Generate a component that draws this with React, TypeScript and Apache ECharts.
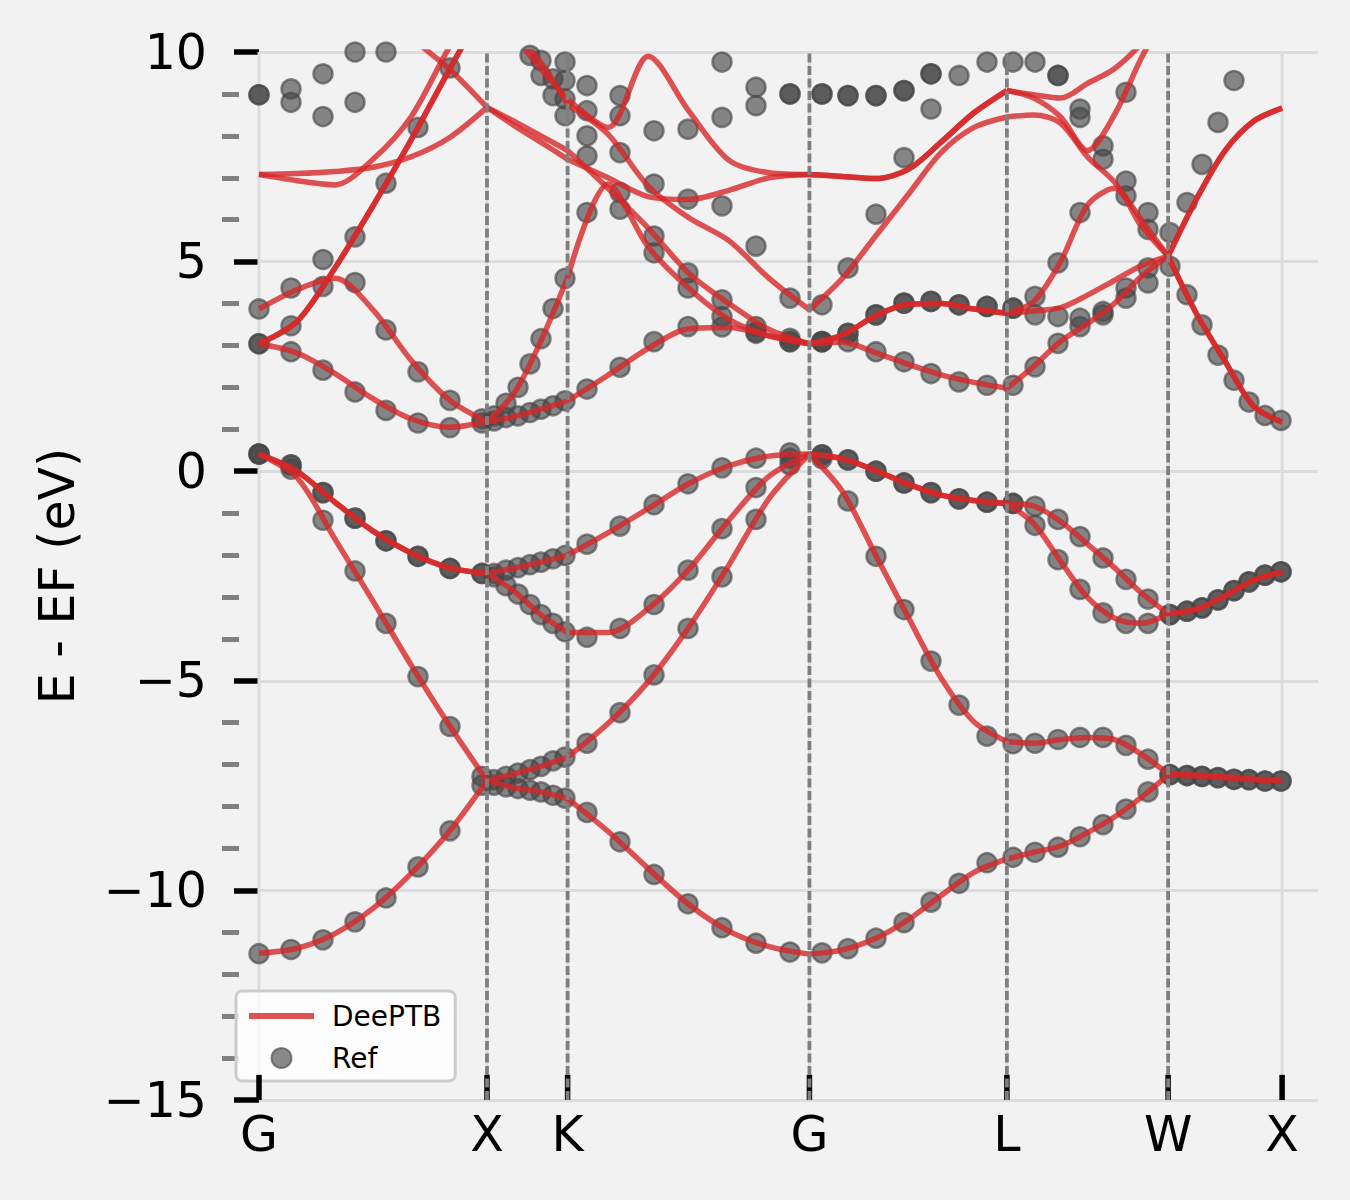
import React, { useEffect, useRef } from "react";
import * as echarts from "echarts";

const FONT = "DejaVu Sans";
const RED = "rgba(214,39,40,0.8)";
const GRAY_DOT = "rgba(70,70,70,0.8)";

// High-symmetry points (k in 2pi/a units along the path)
const hsLabels = ["G", "X", "K", "G", "L", "W", "X"];
const hsK = [0, 1, 1.3536, 2.4142, 3.2802, 3.9873, 4.4873];
const yMinorTicks = [-14, -13, -12, -11, -9, -8, -7, -6, -4, -3, -2, -1, 1, 2, 3, 4, 6, 7, 8, 9];
const Y_MIN = -15;
const Y_MAX = 10;
const X_TICK_TOP = -14.4; // inward x tick length (about 25 px)

// DeePTB k-grid and segment end indices
const gridK = [0, 0.1667, 0.3333, 0.5, 0.6667, 0.8333, 1.0, 1.1179, 1.2357, 1.3536, 1.5304, 1.7071, 1.8839, 2.0607, 2.2374, 2.4142, 2.5585, 2.7029, 2.8472, 2.9915, 3.1359, 3.2802, 3.3981, 3.5159, 3.6338, 3.7516, 3.8695, 3.9873, 4.1123, 4.2373, 4.3623, 4.4873];
const segmentEnds = [0, 6, 9, 15, 21, 27, 31];

// DeePTB bands (eV)
const deeptbV1 = [-11.5, -11.38, -11.03, -10.43, -9.6, -8.6, -7.38, -7.55, -7.65, -7.81, -8.59, -9.48, -10.33, -10.97, -11.34, -11.52, -11.42, -11.15, -10.7, -10.12, -9.57, -9.25, -9.09, -8.94, -8.62, -8.25, -7.78, -7.25, -7.27, -7.31, -7.36, -7.39];
const deeptbV2 = [0.41, -0.15, -1.62, -3.1, -4.62, -6.05, -7.38, -7.22, -7.04, -6.82, -6.02, -5.02, -3.73, -2.24, -0.65, 0.41, -0.48, -1.98, -3.48, -4.93, -5.98, -6.45, -6.49, -6.4, -6.35, -6.4, -6.75, -7.22, -7.25, -7.29, -7.34, -7.37];
const deeptbV3 = [0.41, 0.0, -0.74, -1.43, -1.95, -2.3, -2.44, -2.31, -2.17, -2.0, -1.47, -0.89, -0.3, 0.13, 0.36, 0.41, 0.3, 0.02, -0.31, -0.57, -0.7, -0.77, -0.83, -1.2, -1.74, -2.3, -2.9, -3.4, -3.29, -2.97, -2.6, -2.4];
const deeptbV4 = [0.41, 0.0, -0.74, -1.43, -1.95, -2.3, -2.44, -2.86, -3.42, -3.85, -3.85, -3.28, -2.35, -1.17, -0.12, 0.41, 0.3, 0.02, -0.31, -0.57, -0.7, -0.77, -1.25, -2.15, -3.01, -3.5, -3.63, -3.4, -3.29, -2.97, -2.6, -2.4];
const deeptbC1 = [3.04, 2.82, 2.33, 1.73, 1.25, 1.05, 1.18, 1.3, 1.48, 1.68, 2.29, 2.93, 3.4, 3.43, 3.23, 3.04, 3.08, 2.83, 2.55, 2.3, 2.12, 1.98, 2.5, 3.1, 3.52, 4.0, 4.65, 5.13, 3.75, 2.62, 1.55, 1.17];
const deeptbC2 = [3.87, 4.33, 4.6, 3.85, 2.65, 1.71, 1.18, 1.85, 3.1, 4.62, 6.85, 5.35, 4.37, 3.62, 3.23, 3.04, 3.25, 3.7, 3.98, 4.0, 3.87, 3.77, 3.82, 3.9, 4.2, 4.55, 4.9, 5.13, 3.75, 2.62, 1.55, 1.17];
const deeptbC3 = [3.04, 3.57, 4.85, 6.33, 7.9, 9.56, 11.2, 10.4, 9.6, 8.88, 8.2, 9.9, 8.6, 7.42, 7.12, 7.08, 7.03, 6.98, 7.2, 7.85, 8.55, 9.08, 8.9, 8.45, 7.65, 8.5, 9.85, 11.0, 11.5, 12, 12, 12];
const deeptbC4 = [3.04, 3.57, 4.85, 6.33, 7.9, 9.56, 11.2, 10.5, 9.75, 8.75, 8.04, 6.8, 6.05, 5.5, 4.6, 3.85, 4.6, 5.6, 6.6, 7.6, 8.2, 8.45, 8.5, 8.3, 7.5, 6.9, 6.0, 5.13, 6.5, 7.65, 8.35, 8.66];
const deeptbC5 = [7.08, 7.1, 7.15, 7.25, 7.5, 7.95, 8.68, 8.25, 7.85, 7.44, 7.0, 6.55, 6.48, 6.7, 7.0, 7.08, 7.03, 6.98, 7.2, 7.85, 8.55, 9.08, 8.98, 8.9, 9.25, 9.6, 10.2, 11.0, 11.5, 12, 12, 12];
const deeptbC6 = [7.08, 6.93, 6.83, 7.44, 8.45, 10.1, 11.5, null, null, null, null, null, null, null, null, null, null, null, null, null, null, null, null, null, null, null, null, null, null, null, null, null];
const deeptbC7 = [null, null, null, 11.2, 10.35, 9.6, 8.68, 8.35, 8.0, 7.65, 6.75, 5.8, 4.73, 4.0, 3.38, 3.04, 3.25, 3.7, 3.98, 4.0, 3.87, 3.77, 4.05, 5.0, 6.35, 6.75, 5.85, 5.13, 6.5, 7.65, 8.35, 8.66];

// Reference (DFT) sampling points and energies (eV)
const refK = [0, 0.1404, 0.2807, 0.4211, 0.557, 0.6974, 0.8377, 0.978, 1.0307, 1.0833, 1.136, 1.1886, 1.2368, 1.2895, 1.3421, 1.4386, 1.5833, 1.7325, 1.8816, 2.0307, 2.1798, 2.3289, 2.4693, 2.5833, 2.7061, 2.8289, 2.9474, 3.0702, 3.193, 3.307, 3.4035, 3.5044, 3.6009, 3.7018, 3.8026, 3.8991, 3.9956, 4.0702, 4.136, 4.2061, 4.2763, 4.3421, 4.4123, 4.4825];
const refV1 = [-11.51, -11.41, -11.18, -10.75, -10.18, -9.44, -8.58, -7.49, -7.49, -7.53, -7.57, -7.61, -7.65, -7.73, -7.8, -8.14, -8.84, -9.62, -10.32, -10.89, -11.26, -11.47, -11.49, -11.39, -11.14, -10.77, -10.28, -9.83, -9.34, -9.21, -9.09, -8.97, -8.72, -8.43, -8.06, -7.65, -7.24, -7.26, -7.28, -7.31, -7.35, -7.36, -7.39, -7.39];
const refV2 = [0.41, 0.05, -1.17, -2.38, -3.63, -4.9, -6.09, -7.28, -7.36, -7.28, -7.2, -7.12, -7.04, -6.91, -6.82, -6.49, -5.76, -4.86, -3.75, -2.52, -1.15, 0.15, 0.3, -0.71, -2.03, -3.3, -4.53, -5.58, -6.32, -6.5, -6.49, -6.4, -6.35, -6.35, -6.54, -6.87, -7.24, -7.26, -7.28, -7.31, -7.35, -7.36, -7.39, -7.39];
const refV3 = [0.41, 0.15, -0.51, -1.12, -1.66, -2.03, -2.32, -2.44, -2.44, -2.36, -2.3, -2.23, -2.17, -2.09, -2.01, -1.74, -1.31, -0.8, -0.3, 0.08, 0.31, 0.44, 0.39, 0.27, 0.0, -0.28, -0.51, -0.66, -0.74, -0.77, -0.84, -1.15, -1.56, -2.07, -2.58, -3.05, -3.42, -3.34, -3.26, -3.07, -2.85, -2.64, -2.48, -2.4];
const refV4 = [0.41, 0.15, -0.51, -1.12, -1.66, -2.03, -2.32, -2.44, -2.52, -2.73, -2.93, -3.18, -3.42, -3.63, -3.83, -3.96, -3.75, -3.18, -2.36, -1.37, -0.39, 0.31, 0.39, 0.27, 0.0, -0.28, -0.51, -0.66, -0.74, -0.77, -1.29, -2.11, -2.82, -3.38, -3.63, -3.63, -3.42, -3.34, -3.26, -3.07, -2.85, -2.64, -2.48, -2.4];
const refC1 = [3.04, 2.85, 2.41, 1.89, 1.45, 1.15, 1.04, 1.15, 1.2, 1.28, 1.32, 1.4, 1.48, 1.56, 1.68, 1.96, 2.48, 3.09, 3.45, 3.44, 3.29, 3.09, 3.09, 3.09, 2.85, 2.61, 2.33, 2.13, 2.05, 2.05, 2.49, 3.05, 3.45, 3.73, 4.13, 4.49, 4.89, 4.21, 3.49, 2.77, 2.17, 1.65, 1.33, 1.21];
const refC2 = [3.04, 3.47, 4.41, 4.5, 3.37, 2.37, 1.69, 1.25, 1.32, 1.62, 2.0, 2.56, 3.16, 3.88, 4.6, 6.17, 6.25, 5.21, 4.37, 3.69, 3.32, 3.09, 3.09, 3.29, 3.73, 4.01, 4.05, 3.97, 3.93, 3.89, 3.73, 3.69, 3.65, 3.81, 4.37, 4.85, 5.69, 6.41, 7.32, 8.32, 9.32, 10.15, null, null];
const refC3 = [3.87, 4.37, 5.05, 5.59, 6.87, 8.2, 9.62, null, null, null, null, 9.92, 9.44, 8.96, 8.48, 7.52, 6.65, 5.61, 4.73, 4.09, 3.45, 3.17, 3.09, 3.29, 3.73, 4.01, 4.05, 3.97, 3.93, 3.89, 4.17, 4.97, 6.17, 7.44, 6.57, 5.77, null, null, null, null, null, null, null, null];
const refC4 = [8.98, 8.8, 8.46, 8.8, 10.0, null, null, null, null, null, null, null, 9.8, 9.36, 8.88, 8.0, 7.6, 6.85, 6.49, 6.33, 5.37, 4.13, 3.97, 4.85, 6.13, 7.48, 8.64, 9.44, 9.76, 9.76, 9.76, 9.44, 8.44, 7.76, 6.92, 6.17, null, null, null, null, null, null, null, null];
const refC5 = [8.98, 9.12, 9.48, 10.0, null, null, null, null, null, null, null, null, null, null, 9.32, 8.6, 8.48, 8.12, 8.16, 8.44, 8.72, 9.0, 9.0, 8.96, 8.96, 9.08, 9.48, 10.15, null, null, null, 9.44, 8.64, null, 9.04, null, null, null, null, null, null, null, null, null];
const refC6 = [null, null, null, null, null, null, null, null, null, null, null, null, null, null, 9.76, 9.2, 8.96, null, null, 9.76, 9.16, 9.0, 9.0, 8.96, 8.96, 9.08, 9.48, null, null, null, null, null, null, null, null, null, null, null, null, null, null, null, null, null];

const deeptbBands = [deeptbV1, deeptbV2, deeptbV3, deeptbV4, deeptbC1, deeptbC2, deeptbC3, deeptbC4, deeptbC5, deeptbC6, deeptbC7];
const refBands = [refV1, refV2, refV3, refV4, refC1, refC2, refC3, refC4, refC5, refC6];

function hsLabelFor(v: number): string {
  let best = 0;
  for (let i = 1; i < hsK.length; i++) {
    if (Math.abs(hsK[i] - v) < Math.abs(hsK[best] - v)) best = i;
  }
  return hsLabels[best];
}

function vline(name: string, k: number, y0: number, y1: number, z: number, lineStyle: any) {
  return {
    type: "line",
    name,
    data: [
      [k, y0],
      [k, y1],
    ],
    symbol: "none",
    showSymbol: false,
    silent: true,
    clip: false,
    z,
    lineStyle,
    itemStyle: { color: lineStyle.color },
  };
}

function buildOption() {
  const refData: number[][] = [];
  refBands.forEach((band) => {
    band.forEach((e, i) => {
      if (e !== null && e !== undefined) refData.push([refK[i], e as number]);
    });
  });

  const lineSeries: any[] = [];
  deeptbBands.forEach((band) => {
    for (let s = 0; s < segmentEnds.length - 1; s++) {
      const pts: number[][] = [];
      for (let i = segmentEnds[s]; i <= segmentEnds[s + 1]; i++) {
        const e = band[i];
        if (e !== null && e !== undefined) pts.push([gridK[i], e as number]);
      }
      if (pts.length >= 2) {
        lineSeries.push({
          type: "line",
          name: "DeePTB",
          data: pts,
          smooth: 0.3,
          symbol: "none",
          showSymbol: false,
          clip: true,
          silent: true,
          z: 4,
          lineStyle: { color: RED, width: 5.5 },
          itemStyle: { color: RED },
        });
      }
    }
  });

  const gridLines = hsK.map((k) => vline("kgrid", k, Y_MIN, Y_MAX, 1, { color: "#dcdcdc", width: 3, type: "solid" }));
  const xTicks = hsK.map((k) => vline("xtick", k, Y_MIN, X_TICK_TOP, 9, { color: "#000", width: 5.5, type: "solid" }));
  const hsDashed = hsK
    .slice(1, -1)
    .map((k) => vline("hsline", k, Y_MIN, Y_MAX, 10, { color: "#7f7f7f", width: 3.8, type: [9, 3.5] }));

  return {
    backgroundColor: "#f2f2f2",
    animation: false,
    textStyle: { fontFamily: FONT },
    grid: { left: 247, top: 52, right: 32, bottom: 100, containLabel: false },
    legend: {
      data: [
        { name: "DeePTB", itemStyle: { opacity: 0 }, lineStyle: { color: RED, width: 6 } },
        { name: "Ref", icon: "circle" },
      ],
      orient: "vertical",
      left: 236,
      top: 991,
      itemWidth: 65,
      itemHeight: 20,
      itemGap: 14,
      padding: [11, 14, 9, 10],
      backgroundColor: "rgba(255,255,255,0.8)",
      borderColor: "#cccccc",
      borderWidth: 3,
      borderRadius: 6,
      selectedMode: false,
      textStyle: { fontSize: 28, color: "#000", fontFamily: FONT, padding: [0, 0, 0, 13] },
    },
    xAxis: {
      type: "value",
      min: -0.0526,
      max: 4.6447,
      axisLine: { show: false, onZero: false },
      splitLine: { show: false },
      axisTick: { show: false },
      axisLabel: {
        show: true,
        customValues: hsK,
        formatter: (v: number) => hsLabelFor(v),
        fontSize: 49,
        color: "#000",
        margin: 10,
        fontFamily: FONT,
      },
    },
    yAxis: [
      {
        type: "value",
        min: Y_MIN,
        max: Y_MAX,
        interval: 5,
        position: "left",
        axisLine: { show: false },
        axisTick: { show: true, inside: false, length: 25, lineStyle: { color: "#000", width: 5.5 } },
        axisLabel: {
          fontSize: 49,
          color: "#000",
          margin: 40,
          fontFamily: FONT,
          formatter: (v: number) => (v < 0 ? "\u2212" + Math.abs(v) : String(v)),
        },
        splitLine: { show: true, lineStyle: { color: "#dcdcdc", width: 3 } },
        name: "E - EF (eV)",
        nameLocation: "middle",
        nameGap: 165,
        nameTextStyle: { fontSize: 49, color: "#000", fontFamily: FONT },
      },
      {
        type: "value",
        min: Y_MIN,
        max: Y_MAX,
        interval: 1,
        position: "left",
        offset: 8,
        axisLine: { show: false },
        axisTick: {
          show: true,
          inside: false,
          length: 17,
          customValues: yMinorTicks,
          lineStyle: { color: "#808080", width: 5 },
        },
        axisLabel: { show: false },
        splitLine: { show: false },
      },
    ],
    series: [
      ...gridLines,
      {
        type: "scatter",
        name: "Ref",
        data: refData,
        symbol: "circle",
        symbolSize: 19,
        clip: true,
        silent: true,
        z: 3,
        itemStyle: { color: GRAY_DOT, borderColor: GRAY_DOT, borderWidth: 2.5 },
      },
      ...lineSeries,
      ...xTicks,
      ...hsDashed,
    ],
  };
}

export default function App() {
  const ref = useRef<HTMLDivElement>(null);
  useEffect(() => {
    document.body.style.margin = "0";
    document.body.style.background = "#f2f2f2";
    if (!ref.current) return;
    const chart = echarts.init(ref.current, null, { renderer: "svg" });
    chart.setOption(buildOption() as any);
    return () => {
      chart.dispose();
    };
  }, []);
  return <div ref={ref} style={{ width: 1350, height: 1200 }} />;
}
